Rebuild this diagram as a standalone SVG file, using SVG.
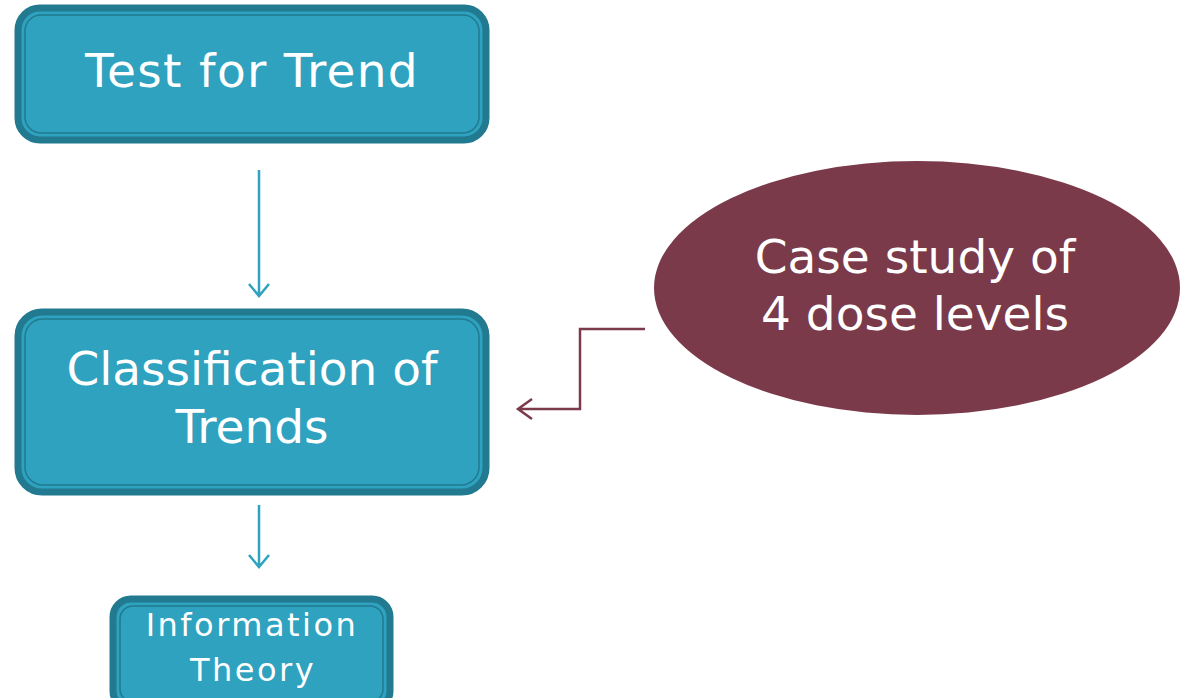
<svg xmlns="http://www.w3.org/2000/svg" width="1180" height="698" viewBox="0 0 1180 698">
<style>
.box{fill:#2EA2BF;stroke:#217A8F;stroke-width:7}
.inner{fill:none;stroke:#217A8F;stroke-width:1.5}
.t{font-family:"DejaVu Sans",sans-serif;fill:#fff;text-anchor:middle}
.blue{fill:none;stroke:#2EA2BF;stroke-width:2.5}
.brown{fill:none;stroke:#7B3A4A;stroke-width:2.5}
</style>
<rect width="1180" height="698" fill="#fff"/>
<g id="test-for-trend">
<rect class="box" x="18" y="8" width="468" height="132" rx="22"/>
<rect class="inner" x="25" y="15" width="454" height="118" rx="16"/>
<text class="t" x="252" y="87" font-size="47" letter-spacing="1.3">Test for Trend</text>
</g>
<g id="classification">
<rect class="box" x="18" y="312" width="468" height="180" rx="24"/>
<rect class="inner" x="25" y="319" width="454" height="166" rx="18"/>
<text class="t" x="252" y="385" font-size="47">Classification of</text>
<text class="t" x="252" y="443" font-size="47">Trends</text>
</g>
<g id="information-theory">
<rect class="box" x="113" y="599" width="277" height="110" rx="18"/>
<rect class="inner" x="120" y="606" width="263" height="96" rx="13"/>
<text class="t" x="252" y="636" font-size="32" letter-spacing="2.5">Information</text>
<text class="t" x="253" y="681" font-size="32" letter-spacing="2.5">Theory</text>
</g>
<g id="case-study">
<ellipse cx="917" cy="288" rx="263" ry="127" fill="#7B3A4A"/>
<text class="t" x="915" y="273" font-size="47">Case study of</text>
<text class="t" x="915" y="330" font-size="47">4 dose levels</text>
</g>
<g id="connectors">
<path class="blue" d="M259 170V296M249 284L259 296L269 284"/>
<path class="blue" d="M259 505V567M249 555L259 567L269 555"/>
<path class="brown" d="M645 329H580V409H518M532 399L518 409L532 419"/>
</g>
</svg>
